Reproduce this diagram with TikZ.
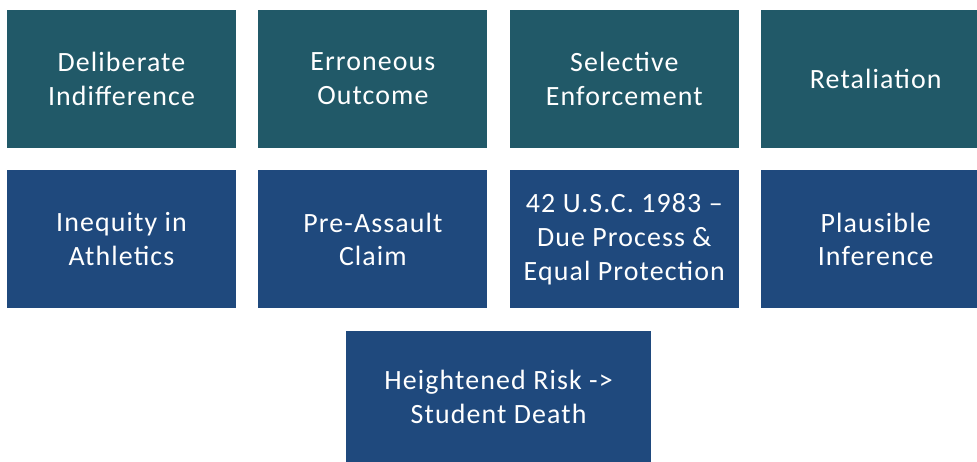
\documentclass[tikz,border=0pt]{standalone}
\usepackage{fontspec}
\setmainfont{Carlito}[LetterSpace=4]
\usetikzlibrary{positioning,calc}
\definecolor{tealbox}{RGB}{33,89,104}
\definecolor{bluebox}{RGB}{31,73,125}

\begin{document}
\begin{tikzpicture}[x=1bp, y=-1bp, node distance=22bp and 22bp,
    box/.style={rectangle, minimum width=229bp, minimum height=138bp, inner sep=0pt,
      text=white, align=center, font=\fontsize{28}{34}\selectfont}]
  \clip (0,0) rectangle (977,462);
  % first row
  \node[box, fill=tealbox] (delib) at (121.5,79) {Deliberate\\Indifference};
  \node[box, fill=tealbox, right=of delib] (erron) {Erroneous\\Outcome};
  \node[box, fill=tealbox, right=of erron] (selec) {Selective\\Enforcement};
  \node[box, fill=tealbox, right=of selec] (retal) {Retaliation};

  % second row
  \node[box, fill=bluebox, below=of delib] (ineq) {Inequity in\\Athletics};
  \node[box, fill=bluebox, right=of ineq] (preas) {Pre-Assault\\Claim};
  \node[box, fill=bluebox, right=of preas] (usc) {42 U.S.C. 1983 --\\Due Process \&\\Equal Protection};
  \node[box, fill=bluebox, right=of usc] (plaus) {Plausible\\Inference};

  % third row
  \node[box, fill=bluebox, minimum width=305bp, minimum height=133bp, anchor=north] (risk)
    at ($(preas.south east)!0.5!(usc.south west)+(0,22)$) {Heightened Risk ->\\Student Death};
\end{tikzpicture}
\end{document}
